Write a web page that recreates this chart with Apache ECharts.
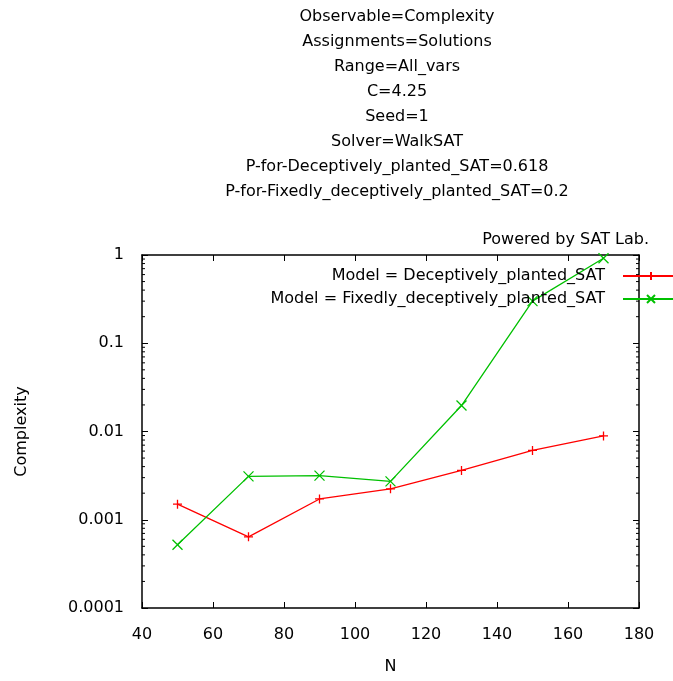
<!DOCTYPE html>
<html>
<head>
<meta charset="utf-8">
<script src="https://cdn.jsdelivr.net/npm/echarts@6/dist/echarts.min.js"></script>
<style>html,body{margin:0;padding:0;background:#fff}#c{width:673px;height:681px}</style>
</head>
<body>
<div id="c"></div>
<script>
const titleLines = [
  'Observable=Complexity',
  'Assignments=Solutions',
  'Range=All_vars',
  'C=4.25',
  'Seed=1',
  'Solver=WalkSAT',
  'P-for-Deceptively_planted_SAT=0.618',
  'P-for-Fixedly_deceptively_planted_SAT=0.2'
];
const poweredBy = 'Powered by SAT Lab.';
const xValues = [50, 70, 90, 110, 130, 150, 170];
const seriesNames = ['Model = Deceptively_planted_SAT', 'Model = Fixedly_deceptively_planted_SAT'];
const deceptiveValues = [0.0015, 0.00064, 0.00172, 0.00224, 0.00362, 0.0061, 0.0089];
const fixedlyValues = [0.00052, 0.0031, 0.00316, 0.00272, 0.0197, 0.30, 0.92];
const xTicks = [40, 60, 80, 100, 120, 140, 160, 180];
const yTickLabels = ['0.0001', '0.001', '0.01', '0.1', '1'];
const yMinorTicks = [];
[0.0001, 0.001, 0.01, 0.1].forEach(d => { for (let k = 2; k <= 9; k++) yMinorTicks.push(+(d * k).toPrecision(3)); });

const FONT = 'DejaVu Sans';
const FS = 16;
const chart = echarts.init(document.getElementById('c'));
const graphics = titleLines.map((t, i) => ({
  type: 'text', x: 397, y: 17 + i * 25,
  style: { text: t, fill: '#000', font: FS + 'px "' + FONT + '"', textAlign: 'center', textVerticalAlign: 'middle' }
}));
graphics.push({ type: 'text', x: 649, y: 240,
  style: { text: poweredBy, fill: '#000', font: FS + 'px "' + FONT + '"', textAlign: 'right', textVerticalAlign: 'middle' } });

function yFmt(v) {
  const idx = Math.round(Math.log10(v)) + 4;
  return yTickLabels[idx] !== undefined ? yTickLabels[idx] : '';
}

chart.setOption({
  animation: false,
  backgroundColor: '#fff',
  textStyle: { fontFamily: FONT },
  graphic: graphics,
  grid: { left: 142, right: 34, top: 255, bottom: 73, containLabel: false, outerBoundsMode: 'none' },
  legend: {
    orient: 'vertical', right: -12, top: 263, align: 'right',
    itemWidth: 56, itemHeight: 10, itemGap: 7,
    textStyle: { fontSize: FS, color: '#000', fontFamily: FONT, padding: [0, 13, 0, 0] },
    data: seriesNames
  },
  xAxis: [{
    type: 'value', min: xTicks[0], max: xTicks[xTicks.length - 1], interval: 20,
    name: 'N', nameLocation: 'middle', nameGap: 51,
    nameTextStyle: { fontSize: FS, color: '#000', fontFamily: FONT },
    axisLine: { lineStyle: { color: '#000', width: 1.5 } },
    axisTick: { inside: true, length: 6, lineStyle: { color: '#000' } },
    axisLabel: { fontSize: FS, color: '#000', margin: 19, fontFamily: FONT },
    splitLine: { show: false }
  }, {
    type: 'value', position: 'top', min: xTicks[0], max: xTicks[xTicks.length - 1], interval: 20,
    axisLine: { show: true, lineStyle: { color: '#000', width: 1.5 } },
    axisTick: { show: true, inside: true, length: 6, lineStyle: { color: '#000' } },
    axisLabel: { show: false }, splitLine: { show: false }
  }],
  yAxis: [{
    type: 'log', logBase: 10, min: 0.0001, max: 1,
    name: 'Complexity', nameLocation: 'middle', nameGap: 112, nameRotate: 90,
    nameTextStyle: { fontSize: FS, color: '#000', fontFamily: FONT },
    axisLine: { show: true, lineStyle: { color: '#000', width: 1.5 } },
    axisTick: { show: true, inside: true, length: 6, lineStyle: { color: '#000' } },
    axisLabel: { fontSize: FS, color: '#000', margin: 18, fontFamily: FONT, formatter: yFmt },
    splitLine: { show: false }
  }, {
    type: 'log', logBase: 10, min: 0.0001, max: 1, position: 'right',
    axisLine: { show: true, lineStyle: { color: '#000', width: 1.5 } },
    axisTick: { show: true, inside: true, length: 6, lineStyle: { color: '#000' } },
    axisLabel: { show: false }, splitLine: { show: false }
  }],
  series: [{
    name: seriesNames[0], type: 'line',
    data: xValues.map((x, i) => [x, deceptiveValues[i]]),
    symbol: 'path://M0,5L10,5M5,0L5,10', symbolSize: 9,
    lineStyle: { color: '#ff0000', width: 1.3 },
    itemStyle: { color: '#ff0000', borderColor: '#ff0000', borderWidth: 1.3 },
    z: 3
  }, {
    name: seriesNames[1], type: 'line',
    data: xValues.map((x, i) => [x, fixedlyValues[i]]),
    symbol: 'path://M0,0L10,10M10,0L0,10', symbolSize: 10,
    lineStyle: { color: '#00c000', width: 1.3 },
    itemStyle: { color: '#00c000', borderColor: '#00c000', borderWidth: 1.3 },
    z: 3
  }, {
    type: 'custom', silent: true, xAxisIndex: 0, yAxisIndex: 0,
    data: yMinorTicks.map(v => [v]),
    renderItem: function (params, api) {
      const v = api.value(0);
      const l = api.coord([xTicks[0], v]);
      const r = api.coord([xTicks[xTicks.length - 1], v]);
      return { type: 'group', children: [
        { type: 'line', shape: { x1: l[0], y1: l[1], x2: l[0] + 3, y2: l[1] }, style: { stroke: '#000', lineWidth: 1 } },
        { type: 'line', shape: { x1: r[0], y1: r[1], x2: r[0] - 3, y2: r[1] }, style: { stroke: '#000', lineWidth: 1 } }
      ]};
    },
    encode: { y: 0 }, clip: false
  }]
});
</script>
</body>
</html>
